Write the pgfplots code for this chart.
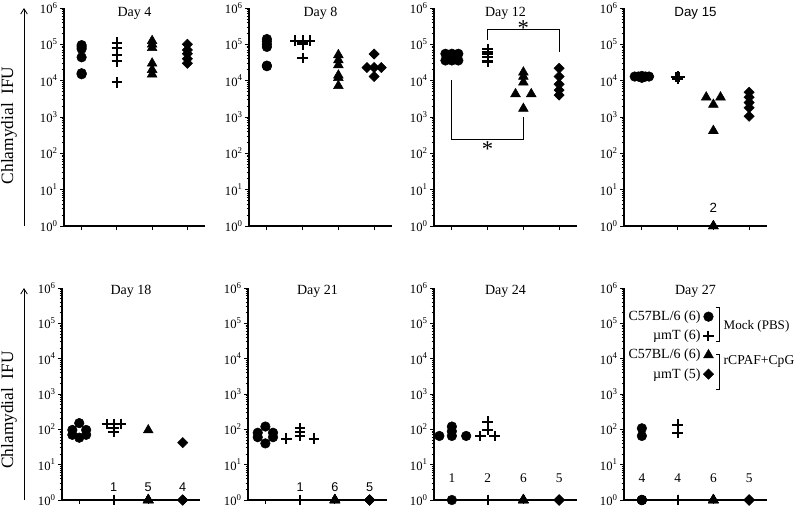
\documentclass[border=0pt]{standalone}
\usepackage{fontspec}
\setmainfont{Liberation Serif}
\newfontfamily\arial{Liberation Sans}
\usepackage{pgfplots}
\pgfplotsset{compat=1.18}
\usetikzlibrary{arrows.meta}

\pgfplotsset{
  every axis/.append style={
    scale only axis, clip=false,
    xmin=0.5, xmax=4.5, ymin=1, ymax=1000000,
    axis x line=bottom, axis y line=left,
    axis line style={-, line width=0.8pt},
    xtick={1,2,3,4}, xticklabels={},
    ytick={1,10,100,1000,10000,100000,1000000},
    yticklabels={10\textsuperscript{0},10\textsuperscript{1},10\textsuperscript{2},10\textsuperscript{3},10\textsuperscript{4},10\textsuperscript{5},10\textsuperscript{6}},
    minor ytick={2,3,4,5,6,7,8,9,20,30,40,50,60,70,80,90,200,300,400,500,600,700,800,900,2000,3000,4000,5000,6000,7000,8000,9000,20000,30000,40000,50000,60000,70000,80000,90000,200000,300000,400000,500000,600000,700000,800000,900000},
    tick align=outside, major tick length=3pt, minor tick length=1.8pt,
    every tick/.style={black, line width=0.6pt},
    yticklabel style={font=\fontsize{9.5}{10}\selectfont, inner sep=1.5pt},
  },
  gA/.style={only marks, mark=*, mark size=3.6pt, black},
  gB/.style={only marks, mark=+, mark size=4pt, black, mark options={line width=1.5pt}},
  gC/.style={only marks, mark=triangle*, mark size=4.2pt, black},
  gD/.style={only marks, mark=square*, mark size=2.7pt, black, mark options={rotate=45}},
}
\tikzset{
  daytop/.style={anchor=north, inner sep=0pt, yshift=0.8pt, font=\fontsize{10.5}{12}\selectfont},
  daybot/.style={anchor=north, inner sep=0pt, yshift=2.4pt, font=\fontsize{10.5}{12}\selectfont},
}

\begin{document}
\begin{tikzpicture}
\useasboundingbox (0pt,0pt) rectangle (600pt,381pt);

% y labels with arrows
\draw[line width=0.6pt, -{Straight Barb[length=4pt,width=5pt]}] (18pt,211.5pt) -- (18pt,375pt);
\node[rotate=90, font=\fontsize{13}{15}\selectfont] at (6.75pt,287pt) {Chlamydial\ \ IFU};
\draw[line width=0.6pt, -{Straight Barb[length=4pt,width=5pt]}] (18pt,6pt) -- (18pt,165pt);
\node[rotate=90, font=\fontsize{13}{15}\selectfont] at (6.75pt,73.5pt) {Chlamydial\ \ IFU};

% Day 4
\begin{semilogyaxis}[at={(48pt,211.5pt)}, anchor=south west, width=105.75pt, height=163.5pt]
\addplot[gA] coordinates {(1,95000)(1,85000)(1,75000)(1,44000)(1,16000)(1,15000)};
\addplot[gB] coordinates {(2,110000)(2,78000)(2,51000)(2,34000)(2,34000)(2,9000)};
\addplot[gC] coordinates {(3,125000)(3,100000)(3,80000)(3,30000)(3,20000)(3,15000)};
\addplot[gD] coordinates {(4,100000)(4,70000)(4,55000)(4,40000)(4,30000)};
\node[daytop] at (axis description cs:0.5,1) {Day 4};
\end{semilogyaxis}

% Day 8
\begin{semilogyaxis}[at={(186.75pt,211.5pt)}, anchor=south west, width=107.25pt, height=163.5pt]
\addplot[gA] coordinates {(1,140000)(1,120000)(1,100000)(1,85000)(1,26000)(1,25000)};
\addplot[gB] coordinates {(1.8,125000)(2,125000)(2.2,125000)(2,100000)(2,110000)(2,42000)};
\addplot[gC] coordinates {(3,51000)(3,37000)(3,27000)(3,14000)(3,12000)(3,7200)};
\addplot[gD] coordinates {(4,54000)(3.8,23000)(4,23000)(4.2,23000)(4,13000)};
\node[daytop] at (axis description cs:0.5,1) {Day 8};
\end{semilogyaxis}

% Day 12
\begin{semilogyaxis}[at={(325.5pt,211.5pt)}, anchor=south west, width=107.25pt, height=163.5pt]
\addplot[gA] coordinates {(0.82,55000)(1,55000)(1.18,55000)(0.82,36000)(1,36000)(1.18,36000)};
\addplot[gB] coordinates {(2,75000)(2,60000)(2,55000)(2,45000)(2,35000)(2,33000)};
\addplot[gC] coordinates {(3,17000)(3,13000)(3,9000)(2.78,4300)(3.22,4300)(3,1700)};
\addplot[gD] coordinates {(4,22000)(4,13000)(4,8000)(4,5500)(4,4000)};
\draw[line width=0.6pt] (axis cs:2,130000) -- (axis cs:2,250000) -- (axis cs:4,250000) -- (axis cs:4,63000);
\node[font=\fontsize{17}{17}\selectfont] at (axis cs:3,280000) {*};
\draw[line width=0.6pt] (axis cs:1,10500) -- (axis cs:1,245) -- (axis cs:3,245) -- (axis cs:3,980);
\node[font=\fontsize{17}{17}\selectfont] at (axis cs:2,130) {*};
\node[daytop] at (axis description cs:0.5,1) {Day 12};
\end{semilogyaxis}

% Day 15
\begin{semilogyaxis}[at={(468pt,211.5pt)}, anchor=south west, width=107.25pt, height=163.5pt]
\addplot[gA] coordinates {(0.8,13000)(0.9,13000)(1,12000)(1,13500)(1.1,13000)(1.2,13000)};
\addplot[gB] coordinates {(2,13000)(2,12500)(2,12000)(1.95,12500)(2.05,12500)(2,11000)};
\addplot[gC] coordinates {(2.8,3500)(3.2,3500)(3,2200)(3,420)(3,1)(3,1)};
\addplot[gD] coordinates {(4,4800)(4,3500)(4,2500)(4,1800)(4,1050)};
\node[font=\arial\fontsize{10}{11}\selectfont] at (axis cs:3,3.2) {2};
\node[daytop, font=\arial\fontsize{10}{12}\selectfont] at (axis description cs:0.5,1) {Day 15};
\end{semilogyaxis}

% Day 18
\begin{semilogyaxis}[at={(46.5pt,6pt)}, anchor=south west, width=103.5pt, height=159pt]
\addplot[gA] coordinates {(1,150)(0.8,96)(1.2,96)(0.8,70)(1.2,70)(1,58)};
\addplot[gB] coordinates {(1.8,142)(2,142)(2.2,142)(2,110)(2,85)(2,1)};
\addplot[gC] coordinates {(3,95)(3,1)(3,1)(3,1)(3,1)(3,1)};
\addplot[gD] coordinates {(4,42)(4,1)(4,1)(4,1)(4,1)};
\node[font=\arial\fontsize{9.5}{10}\selectfont] at (axis cs:2,2.3) {1};
\node[font=\arial\fontsize{9.5}{10}\selectfont] at (axis cs:3,2.3) {5};
\node[font=\arial\fontsize{9.5}{10}\selectfont] at (axis cs:4,2.3) {4};
\node[daybot] at (axis description cs:0.5,1) {Day 18};
\end{semilogyaxis}

% Day 21
\begin{semilogyaxis}[at={(186pt,6pt)}, anchor=south west, width=104.25pt, height=159pt]
\addplot[gA] coordinates {(1,120)(0.78,80)(1.22,80)(0.78,60)(1.22,60)(1,40)};
\addplot[gB] coordinates {(1.6,55)(2,107)(2,86)(2,66)(2.4,55)(2,1)};
\addplot[gC] coordinates {(3,1)(3,1)(3,1)(3,1)(3,1)(3,1)};
\addplot[gD] coordinates {(4,1)(4,1)(4,1)(4,1)(4,1)};
\node[font=\arial\fontsize{9.5}{10}\selectfont] at (axis cs:2,2.3) {1};
\node[font=\arial\fontsize{9.5}{10}\selectfont] at (axis cs:3,2.3) {6};
\node[font=\arial\fontsize{9.5}{10}\selectfont] at (axis cs:4,2.3) {5};
\node[daybot] at (axis description cs:0.5,1) {Day 21};
\end{semilogyaxis}

% Day 24
\begin{semilogyaxis}[at={(325.5pt,6pt)}, anchor=south west, width=107.25pt, height=159pt]
\addplot[gA] coordinates {(0.65,65)(1,120)(1,88)(1,65)(1.4,65)(1,1)};
\addplot[gB] coordinates {(2,165)(2,95)(1.8,65)(2.2,65)(2,1)(2,1)};
\addplot[gC] coordinates {(3,1)(3,1)(3,1)(3,1)(3,1)(3,1)};
\addplot[gD] coordinates {(4,1)(4,1)(4,1)(4,1)(4,1)};
\node[font=\fontsize{10}{11}\selectfont] at (axis cs:1,4.2) {1};
\node[font=\fontsize{10}{11}\selectfont] at (axis cs:2,4.2) {2};
\node[font=\fontsize{10}{11}\selectfont] at (axis cs:3,4.2) {6};
\node[font=\fontsize{10}{11}\selectfont] at (axis cs:4,4.2) {5};
\node[daybot] at (axis description cs:0.5,1) {Day 24};
\end{semilogyaxis}

% Day 27
\begin{semilogyaxis}[at={(468pt,6pt)}, anchor=south west, width=107.25pt, height=159pt,
  legend style={draw=none, fill=none, at={(0.63,0.9)}, anchor=north east, inner sep=0pt,
    row sep=3.6pt, column sep=1pt, nodes={inner sep=1pt}, font=\fontsize{10.5}{12}\selectfont},
  legend plot pos=right, legend cell align=right,
  legend image code/.code={\draw[#1] plot coordinates {(0pt,0pt)};}]
\addplot[gA] coordinates {(1,107)(1,65)(1,1)(1,1)(1,1)(1,1)};
\addlegendentry{C57BL/6 (6)}
\addplot[gB] coordinates {(2,135)(2,80)(2,1)(2,1)(2,1)(2,1)};
\addlegendentry{µmT (6)}
\addplot[gC] coordinates {(3,1)(3,1)(3,1)(3,1)(3,1)(3,1)};
\addlegendentry{C57BL/6 (6)}
\addplot[gD] coordinates {(4,1)(4,1)(4,1)(4,1)(4,1)};
\addlegendentry{µmT (5)}
\node[font=\fontsize{10}{11}\selectfont] at (axis cs:1,4.2) {4};
\node[font=\fontsize{10}{11}\selectfont] at (axis cs:2,4.2) {4};
\node[font=\fontsize{10}{11}\selectfont] at (axis cs:3,4.2) {6};
\node[font=\fontsize{10}{11}\selectfont] at (axis cs:4,4.2) {5};
\draw[line width=0.6pt] (axis description cs:0.643,0.910) -- (axis description cs:0.664,0.910)
  -- (axis description cs:0.664,0.747) -- (axis description cs:0.643,0.747);
\node[anchor=west, inner sep=0pt, font=\fontsize{9.8}{11}\selectfont] at (axis description cs:0.695,0.817) {Mock (PBS)};
\draw[line width=0.6pt] (axis description cs:0.643,0.689) -- (axis description cs:0.664,0.689)
  -- (axis description cs:0.664,0.524) -- (axis description cs:0.643,0.524);
\node[anchor=west, inner sep=0pt, font=\fontsize{10.2}{11}\selectfont] at (axis description cs:0.695,0.652) {rCPAF+CpG};
\node[daybot] at (axis description cs:0.5,1) {Day 27};
\end{semilogyaxis}
\end{tikzpicture}
\end{document}
